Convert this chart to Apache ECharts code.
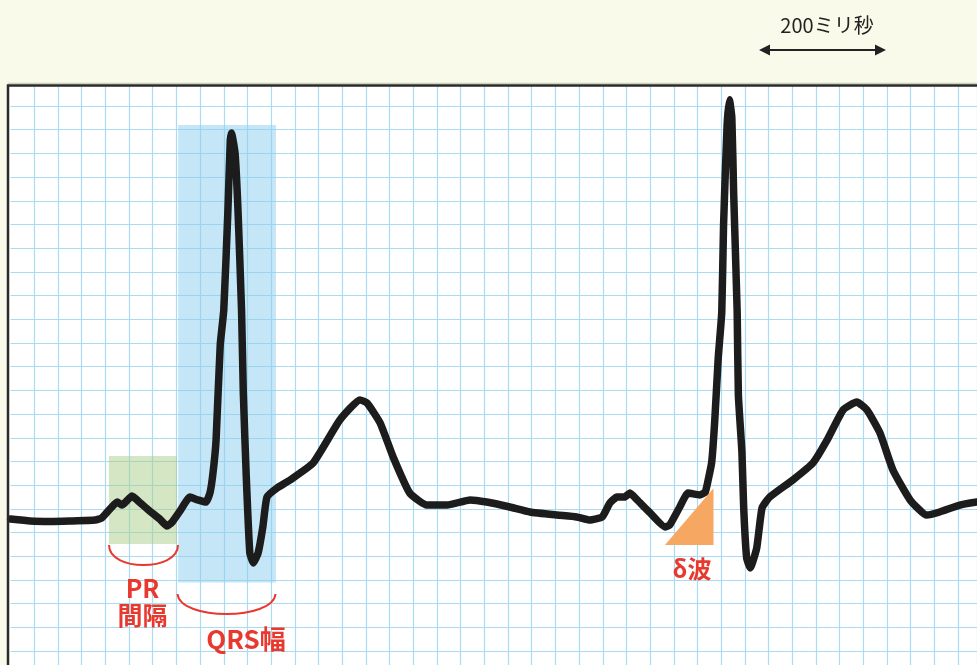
<!DOCTYPE html>
<html>
<head>
<meta charset="utf-8">
<script src="https://cdn.jsdelivr.net/npm/echarts@6/dist/echarts.min.js"></script>
<style>
  html, body { margin: 0; padding: 0; background: #fafaea; }
  #chart { width: 977px; height: 665px; }
</style>
</head>
<body>
<div id="chart"></div>
<script>
// time in ms (1 small box = 40 ms), amplitude in mm (1 box = 1 mm = 0.1 mV)
const timeMs = [
  0, 33, 67, 100, 143, 154, 168, 180, 188, 205, 219, 235, 252, 264, 273, 286,
  303, 316, 330, 337, 342, 347, 354, 360, 367, 371, 373, 379, 384, 390, 393, 398,
  404, 410, 418, 426, 433, 450, 472, 511, 556, 590, 602, 624, 646, 674, 703, 737,
  776, 804, 843, 877, 923, 956, 978, 999, 1012, 1024, 1037, 1046, 1058, 1080, 1105, 1113,
  1130, 1144, 1164, 1173, 1178, 1184, 1189, 1195, 1201, 1204, 1210, 1214, 1218, 1221, 1227, 1229,
  1235, 1238, 1243, 1249, 1260, 1269, 1282, 1321, 1355, 1379, 1406, 1429, 1446, 1468, 1490, 1519,
  1547, 1569, 1603, 1632
]
const voltage = [
  -0.43, -0.51, -0.53, -0.51, -0.47, -0.38, 0.0, 0.29, 0.16, 0.54, 0.25, -0.09, -0.43, -0.72, -0.55, -0.09,
  0.5, 0.38, 0.29, 0.71, 1.56, 2.91, 6.92, 8.39, 12.61, 15.57, 15.86, 15.02, 12.61, 8.39, 4.89, 1.35,
  -1.86, -2.28, -1.86, -0.76, 0.5, 0.88, 1.22, 1.94, 3.75, 4.6, 4.47, 3.63, 2.19, 0.67, 0.16, 0.16,
  0.38, 0.29, 0.08, -0.13, -0.26, -0.34, -0.47, -0.34, 0.25, 0.5, 0.5, 0.67, 0.38, -0.17, -0.76, -0.68,
  0.08, 0.67, 0.59, 0.71, 1.22, 1.98, 3.67, 6.37, 8.31, 11.98, 16.2, 17.26, 16.5, 13.38, 8.31, 4.81,
  2.4, 0.04, -2.07, -2.49, -1.65, 0.04, 0.5, 1.22, 1.94, 2.91, 4.18, 4.51, 4.18, 3.21, 1.64, 0.38,
  -0.26, -0.13, 0.16, 0.29
]

// highlighted intervals [startMs, endMs, lowMm, highMm]
const prBox = [166, 281, -1.48, 2.23]
const qrsBox = [283, 448, -3.11, 16.2]

// delta wave marker triangle
const deltaTriX = [1105, 1187, 1187]
const deltaTriY = [-1.52, -1.52, 0.87]

const gridBlue = "#a9dcf2"
const labelRed = "#e8392f"
const cjkFont = "\"Noto Sans CJK JP\", \"Noto Sans\", sans-serif"

const chart = echarts.init(document.getElementById("chart"))

const option = {
  animation: false,
  backgroundColor: "#fafaea",
  grid: {
    left: 10.6,
    top: 85.7,
    width: 966.4,
    height: 589.1,
    outerBoundsMode: "none"
  },
  xAxis: {
    type: "value",
    min: 0,
    max: 1632,
    interval: 40,
    axisLine: { show: false },
    axisTick: { show: false },
    axisLabel: { show: false },
    splitLine: {
      show: true,
      showMinLine: false,
      lineStyle: { color: gridBlue, width: 1.2 }
    }
  },
  yAxis: {
    type: "value",
    min: -7,
    max: 17.857,
    interval: 1,
    axisLine: { show: false },
    axisTick: { show: false },
    axisLabel: { show: false },
    splitLine: {
      show: true,
      showMaxLine: false,
      lineStyle: { color: gridBlue, width: 1.2 }
    }
  },
  graphic: [
    // paper area
    {
      type: "rect",
      z: -10,
      shape: { x: 8, y: 85.5, width: 969, height: 580 },
      style: { fill: "#ffffff" }
    },
    // frame
    {
      type: "polyline",
      z: 10,
      shape: { points: [[8, 665], [8, 85.5], [977, 85.5]] },
      style: { stroke: "#2a2a2a", lineWidth: 2.5, fill: null }
    },
    {
      type: "line",
      z: 10,
      shape: { x1: 8, y1: 83.3, x2: 977, y2: 83.3 },
      style: { stroke: "#c2c2b8", lineWidth: 1 }
    },
    // 200ms scale
    {
      type: "text",
      z: 10,
      style: {
        text: "200ミリ秒",
        x: 827,
        y: 25,
        fill: "#222",
        font: "20px " + cjkFont,
        textAlign: "center",
        textVerticalAlign: "middle"
      }
    },
    {
      type: "line",
      z: 10,
      shape: { x1: 766, y1: 50, x2: 879, y2: 50 },
      style: { stroke: "#222", lineWidth: 2 }
    },
    {
      type: "polygon",
      z: 10,
      shape: { points: [[759, 50], [770, 44.5], [770, 55.5]] },
      style: { fill: "#222" }
    },
    {
      type: "polygon",
      z: 10,
      shape: { points: [[886, 50], [875, 44.5], [875, 55.5]] },
      style: { fill: "#222" }
    },
    // brackets
    {
      type: "bezierCurve",
      z: 10,
      shape: { x1: 109, y1: 545, cpx1: 109, cpy1: 571.7, cpx2: 178, cpy2: 571.7, x2: 178, y2: 545 },
      style: { stroke: labelRed, lineWidth: 2, fill: null }
    },
    {
      type: "bezierCurve",
      z: 10,
      shape: { x1: 177.5, y1: 594, cpx1: 180, cpy1: 620.7, cpx2: 273, cpy2: 620.7, x2: 275.5, y2: 594 },
      style: { stroke: labelRed, lineWidth: 2, fill: null }
    },
    {
      type: "text",
      z: 10,
      style: {
        text: "PR",
        x: 142.5,
        y: 588,
        fill: labelRed,
        font: "bold 25px " + cjkFont,
        textAlign: "center",
        textVerticalAlign: "middle"
      }
    },
    {
      type: "text",
      z: 10,
      style: {
        text: "間隔",
        x: 142.5,
        y: 615,
        fill: labelRed,
        font: "bold 25px " + cjkFont,
        textAlign: "center",
        textVerticalAlign: "middle"
      }
    },
    {
      type: "text",
      z: 10,
      style: {
        text: "QRS幅",
        x: 246,
        y: 639.5,
        fill: labelRed,
        font: "bold 26px " + cjkFont,
        textAlign: "center",
        textVerticalAlign: "middle"
      }
    },
    {
      type: "text",
      z: 10,
      style: {
        text: "δ波",
        x: 692,
        y: 569,
        fill: labelRed,
        font: "bold 24px " + cjkFont,
        textAlign: "center",
        textVerticalAlign: "middle"
      }
    }
  ],
  series: [
    {
      name: "intervals",
      type: "line",
      data: [],
      z: 1,
      silent: true,
      markArea: {
        silent: true,
        data: [
          [
            { xAxis: prBox[0], yAxis: prBox[2], itemStyle: { color: "rgba(170, 205, 135, 0.5)" } },
            { xAxis: prBox[1], yAxis: prBox[3] }
          ],
          [
            { xAxis: qrsBox[0], yAxis: qrsBox[2], itemStyle: { color: "rgba(140, 205, 238, 0.5)" } },
            { xAxis: qrsBox[1], yAxis: qrsBox[3] }
          ]
        ]
      }
    },
    {
      name: "delta",
      type: "custom",
      z: 2,
      silent: true,
      data: [[deltaTriX[0], deltaTriY[0]]],
      renderItem: function (params, api) {
        const pts = deltaTriX.map((x, i) => api.coord([x, deltaTriY[i]]))
        return {
          type: "polygon",
          shape: { points: pts },
          style: { fill: "#f6a863" }
        }
      }
    },
    {
      name: "ECG",
      type: "line",
      z: 3,
      data: timeMs.map((t, i) => [t, voltage[i]]),
      showSymbol: false,
      smooth: 0.15,
      lineStyle: {
        color: "#1c1c1c",
        width: 7.5,
        cap: "round",
        join: "round"
      }
    }
  ]
}

chart.setOption(option)
</script>
</body>
</html>
